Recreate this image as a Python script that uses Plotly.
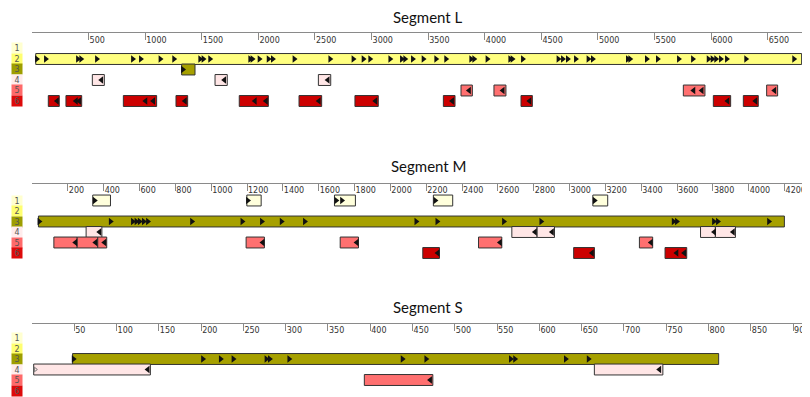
import plotly.graph_objects as go

# ---------------- DATA ----------------
# Segment L
L_orf_frames = [2, 3, 4, 4, 4, 5, 5, 5, 5, 6, 6, 6, 6, 6, 6, 6, 6, 6, 6, 6]
L_orf_starts = [33, 1322, 533, 1617, 2530, 3790, 4081, 5754, 6490, 144, 300, 807, 1272, 1831, 2359, 2853, 3634, 4320, 6019, 6284]
L_orf_ends = [6799, 1440, 639, 1725, 2639, 3890, 4187, 5945, 6587, 241, 439, 1101, 1375, 2088, 2559, 3059, 3737, 4420, 6172, 6416]
L_atg_pos = [42, 121, 404, 433, 572, 890, 960, 1133, 1254, 1484, 1513, 1572, 1926, 1946, 2008, 2088, 2126, 2317,
             2633, 2838, 2927, 2986, 3163, 3266, 3295, 3363, 3457, 3569, 3657, 3878, 3905, 4022, 4223, 4243, 4335,
             4649, 4688, 4732, 4803, 4914, 4953, 5262, 5283, 5430, 5527, 5713, 5837, 5975, 6010, 6042, 6084, 6137,
             6307, 6731,
             1332,
             614, 1700, 2614,
             3862, 4160, 5845, 5918, 6560,
             222, 389, 418, 1004, 1072, 1352, 1970, 2068, 2535, 3035, 3713, 4396, 6146, 6392]
L_atg_frames = [2] * 54 + [3] + [4] * 3 + [5] * 5 + [6] * 14
L_tick_vals = [0, 500, 1000, 1500, 2000, 2500, 3000, 3500, 4000, 4500, 5000, 5500, 6000, 6500]
L_tick_text = ["", "500", "1000", "1500", "2000", "2500", "3000", "3500", "4000", "4500", "5000", "5500", "6000", "6500"]

# Segment M
M_orf_frames = [1, 1, 1, 1, 1, 3, 4, 4, 4, 4, 4, 5, 5, 5, 5, 5, 5, 5, 6, 6, 6]
M_orf_starts = [339, 1199, 1688, 2240, 3130, 36, 302, 2678, 2819, 3731, 3814, 122, 252, 367, 1195, 1720, 2492, 3390, 2181, 3023, 3533]
M_orf_ends = [438, 1279, 1805, 2348, 3213, 4199, 390, 2819, 2916, 3814, 3926, 252, 367, 417, 1297, 1822, 2622, 3464, 2274, 3139, 3654]
M_atg_pos = [349, 1204, 1697, 1729, 2250, 3139,
             40, 438, 562, 582, 600, 623, 646, 892, 1173, 1282, 1392, 1522, 2144, 2261, 2633, 2841, 3580, 3598,
             3805, 3827, 4112,
             377, 2808, 2903, 3808, 3913,
             243, 355, 405, 1288, 1813, 2613, 3455,
             2265, 3126, 3598, 3641]
M_atg_frames = [1] * 6 + [3] * 21 + [4] * 5 + [5] * 7 + [6] * 4
M_tick_vals = [0, 200, 400, 600, 800, 1000, 1200, 1400, 1600, 1800, 2000, 2200, 2400, 2600, 2800, 3000, 3200,
               3400, 3600, 3800, 4000, 4200]
M_tick_text = [""] + [str(v) for v in M_tick_vals[1:]]

# Segment S
S_orf_frames = [3, 4, 4, 5]
S_orf_starts = [48, 2, 665, 393]
S_orf_ends = [812, 140, 746, 474]
S_atg_pos = [49, 202, 223, 238, 277, 281, 304, 438, 466, 566, 571, 631, 658, 137, 742, 471]
S_atg_frames = [3] * 13 + [4, 4, 5]
S_partial_pos = [4]
S_partial_frames = [4]
S_tick_vals = [0, 50, 100, 150, 200, 250, 300, 350, 400, 450, 500, 550, 600, 650, 700, 750, 800, 850, 900]
S_tick_text = [""] + [str(v) for v in S_tick_vals[1:]]

segment_names = ["Segment L", "Segment M", "Segment S"]
frame_labels = ["1", "2", "3", "4", "5", "6"]

# ---------------- STYLE ----------------
OFF = 8                      # page body margin
W, H = 810 - OFF, 397 - OFF  # figure fits the window after the body margin
ML = 32 - OFF
FRAME_COLORS = {1: "#ffffdc", 2: "#ffff80", 3: "#a6a000", 4: "#ffe6e6", 5: "#ff7070", 6: "#cc0000"}
LABEL_COLORS = {1: "#ffffd0", 2: "#ffff70", 3: "#9e9e00", 4: "#ffecec", 5: "#ff6a6a", 6: "#dd0a0a"}
ROW_PX = 10.5

segments = [
    dict(name=segment_names[0], frames=L_orf_frames, starts=L_orf_starts, ends=L_orf_ends,
         atg=L_atg_pos, atgf=L_atg_frames, tv=L_tick_vals, tt=L_tick_text,
         xmax=6873, ruler=33.0, row1=48.5, bottom=112, title_y=16.5),
    dict(name=segment_names[1], frames=M_orf_frames, starts=M_orf_starts, ends=M_orf_ends,
         atg=M_atg_pos, atgf=M_atg_frames, tv=M_tick_vals, tt=M_tick_text,
         xmax=4342, ruler=183.5, row1=200.5, bottom=262, title_y=165.5),
    dict(name=segment_names[2], frames=S_orf_frames, starts=S_orf_starts, ends=S_orf_ends,
         atg=S_atg_pos, atgf=S_atg_frames, tv=S_tick_vals, tt=S_tick_text,
         xmax=920, ruler=323.5, row1=338, bottom=397, title_y=307),
]

fig = go.Figure()
annotations = []
layout = dict(
    width=W, height=H, margin=dict(l=ML, r=0, t=0, b=0, autoexpand=False),
    paper_bgcolor="white", plot_bgcolor="white", showlegend=False, barmode="overlay",
)

for i, s in enumerate(segments):
    suf = "" if i == 0 else str(i + 1)
    xa, ya = "x" + suf, "y" + suf
    lengths = [e - b for b, e in zip(s["starts"], s["ends"])]
    fig.add_trace(go.Bar(
        orientation="h", y=s["frames"], x=lengths, base=s["starts"], width=1.04,
        marker=dict(color=[FRAME_COLORS[f] for f in s["frames"]], line=dict(color="#333333", width=1)),
        xaxis=xa, yaxis=ya, hoverinfo="skip",
    ))
    fig.add_trace(go.Scatter(
        x=s["atg"], y=s["atgf"], mode="markers",
        marker=dict(symbol=["triangle-right" if f <= 3 else "triangle-left" for f in s["atgf"]],
                    size=6.5, color="#111111", line=dict(width=0)),
        xaxis=xa, yaxis=ya, hoverinfo="skip",
    ))
    if i == 2:
        fig.add_trace(go.Scatter(
            x=S_partial_pos, y=S_partial_frames, mode="markers",
            marker=dict(symbol="triangle-right-open", size=4, color="#777777"),
            xaxis=xa, yaxis=ya, hoverinfo="skip",
        ))

    ruler_f = s["ruler"] - OFF
    bottom_f = min(s["bottom"] - OFF, H)
    height_px = bottom_f - ruler_f
    top_val = 1 - (s["row1"] - s["ruler"]) / ROW_PX
    bot_val = top_val + height_px / ROW_PX
    layout["xaxis" + suf] = dict(
        domain=[0, 1], range=[0, s["xmax"]], side="top", anchor=ya,
        tickmode="array", tickvals=s["tv"], ticktext=s["tt"],
        ticks="inside", ticklen=7, tickcolor="#8a8a8a", tickwidth=1,
        showline=True, linecolor="#8a8a8a", linewidth=1, mirror=False,
        ticklabelposition="inside right", ticklabeloverflow="allow",
        tickfont=dict(family="DejaVu Sans", size=8, color="#333333"),
        showgrid=False, zeroline=False, fixedrange=True, automargin=False,
    )
    layout["yaxis" + suf] = dict(
        domain=[1 - bottom_f / H, 1 - ruler_f / H], range=[bot_val, top_val],
        visible=False, showgrid=False, zeroline=False, fixedrange=True, anchor=xa,
    )
    annotations.append(dict(
        text=s["name"], xref="paper", yref="paper",
        x=(428 - 32) / (W - ML), y=1 - (s["title_y"] - OFF) / H,
        xanchor="center", yanchor="middle", showarrow=False, borderpad=0,
        font=dict(family="Lato", size=15, color="#111111"),
    ))
    for k, lab in enumerate(frame_labels):
        annotations.append(dict(
            text=lab, xref="paper", yref=ya, x=0, y=k + 1, xshift=-(32 - 17.3),
            xanchor="center", yanchor="middle", showarrow=False,
            width=10, height=10, borderpad=0, bgcolor=LABEL_COLORS[k + 1],
            font=dict(family="DejaVu Sans", size=8, color="#555555"),
        ))

layout["annotations"] = annotations
fig.update_layout(**layout)
fig.write_html("out.html")
